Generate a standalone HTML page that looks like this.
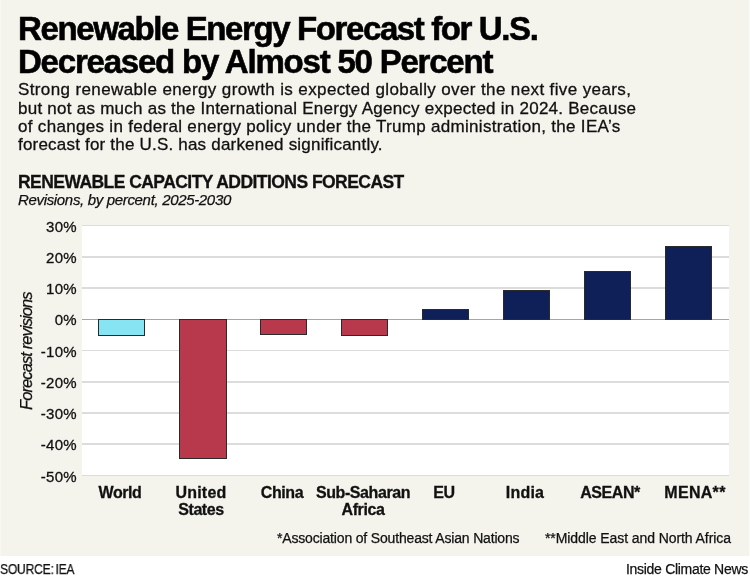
<!DOCTYPE html>
<html><head><meta charset="utf-8">
<style>
html,body{margin:0;padding:0;}
body{width:750px;height:579px;position:relative;overflow:hidden;background:#fff;-webkit-font-smoothing:antialiased;font-family:"Liberation Sans",sans-serif;color:#1a1a1a;}
.bg{position:absolute;left:0;top:0;width:749px;height:556px;background:#f4f3ec;}
.bgl{position:absolute;left:0;top:0;width:1px;height:556px;background:#f8f7f2;}
.bgr{position:absolute;left:749px;top:0;width:1px;height:556px;background:#fbfbf8;}
.t{position:absolute;white-space:nowrap;line-height:1;transform-origin:0 0;will-change:transform;}
.title{font-weight:bold;font-size:33px;color:#000;-webkit-text-stroke:0.6px #000;letter-spacing:-1.5px;}
.sub{font-size:17px;color:#111;-webkit-text-stroke:0.3px #111;}
.ctitle{font-weight:bold;font-size:17.5px;color:#111;-webkit-text-stroke:0.3px #111;letter-spacing:-0.55px;}
.csub{font-style:italic;font-size:15px;color:#111;-webkit-text-stroke:0.25px #111;letter-spacing:-0.33px;}
.plot{position:absolute;left:81.5px;top:225px;width:647.5px;height:251px;background:#fff;}
.grid{position:absolute;left:81.5px;width:647px;height:1.6px;background:#dcdcdc;}
.zero{position:absolute;left:81.5px;width:647px;height:1.9px;background:#a6a6a6;}
.yl{will-change:transform;position:absolute;width:60px;left:17.3px;text-align:right;font-size:15px;line-height:15px;color:#111;letter-spacing:0.3px;-webkit-text-stroke:0.3px #111;}
.bar{position:absolute;box-sizing:border-box;border:1.3px solid #2a2a2a;width:47.4px;}
.cy{background:#87e4f2;}
.rd{background:#b8394b;}
.nv{background:#0f1f57;}
.xl{will-change:transform;position:absolute;width:120px;text-align:center;font-weight:bold;font-size:16px;line-height:17px;color:#111;-webkit-text-stroke:0.3px #111;letter-spacing:-0.42px;}
.fn{font-size:14px;color:#111;-webkit-text-stroke:0.25px #111;}
</style></head><body>
<div class="bg"></div><div class="bgl"></div><div class="bgr"></div>

<div class="t title" style="left:18px;top:12px;letter-spacing:-1.39px;">Renewable Energy Forecast for U.S.</div>
<div class="t title" style="left:18px;top:45.3px;letter-spacing:-1.21px;">Decreased by Almost 50 Percent</div>

<div class="t sub" style="left:18px;top:81px;letter-spacing:0.38px;">Strong renewable energy growth is expected globally over the next five years,</div>
<div class="t sub" style="left:18px;top:99.5px;letter-spacing:0.25px;">but not as much as the International Energy Agency expected in 2024. Because</div>
<div class="t sub" style="left:18px;top:118px;letter-spacing:0.31px;">of changes in federal energy policy under the Trump administration, the IEA’s</div>
<div class="t sub" style="left:18px;top:136.4px;letter-spacing:0.2px;">forecast for the U.S. has darkened significantly.</div>

<div class="t ctitle" style="left:18px;top:173.5px;">RENEWABLE CAPACITY ADDITIONS FORECAST</div>
<div class="t csub" style="left:18px;top:192px;">Revisions, by percent, 2025-2030</div>

<div class="plot"></div>
<div class="grid" style="top:224.70px;"></div>
<div class="grid" style="top:255.95px;"></div>
<div class="grid" style="top:287.20px;"></div>
<div class="zero" style="top:318.5px;"></div>
<div class="grid" style="top:349.70px;"></div>
<div class="grid" style="top:380.95px;"></div>
<div class="grid" style="top:412.20px;"></div>
<div class="grid" style="top:443.45px;"></div>
<div class="grid" style="top:474.70px;"></div>

<div class="yl" style="top:218.60px;">30%</div>
<div class="yl" style="top:249.85px;">20%</div>
<div class="yl" style="top:281.10px;">10%</div>
<div class="yl" style="top:312.35px;">0%</div>
<div class="yl" style="top:343.60px;">-10%</div>
<div class="yl" style="top:374.85px;">-20%</div>
<div class="yl" style="top:406.10px;">-30%</div>
<div class="yl" style="top:437.35px;">-40%</div>
<div class="yl" style="top:468.60px;">-50%</div>

<div class="t" style="left:17.8px;top:410px;font-style:italic;font-size:16.5px;color:#111;-webkit-text-stroke:0.25px #111;letter-spacing:-0.9px;transform:rotate(-90deg);">Forecast revisions</div>

<div class="bar cy" style="left:98px;top:318.5px;height:17.4px;"></div>
<div class="bar rd" style="left:179.3px;top:318.5px;height:140.5px;"></div>
<div class="bar rd" style="left:260px;top:318.5px;height:16px;"></div>
<div class="bar rd" style="left:341px;top:318.5px;height:17.4px;"></div>
<div class="bar nv" style="left:422px;top:308.8px;height:11px;"></div>
<div class="bar nv" style="left:503px;top:290px;height:29.8px;"></div>
<div class="bar nv" style="left:584px;top:270.5px;height:49.3px;"></div>
<div class="bar nv" style="left:665px;top:246px;height:73.8px;"></div>

<div class="xl" style="left:60px;top:484px;">World</div>
<div class="xl" style="left:141px;top:484px;"><span style="letter-spacing:0.2px">United</span><br>States</div>
<div class="xl" style="left:222px;top:484px;">China</div>
<div class="xl" style="left:303px;top:484px;">Sub-Saharan<br>Africa</div>
<div class="xl" style="left:384px;top:484px;">EU</div>
<div class="xl" style="left:465px;top:484px;letter-spacing:0.2px;">India</div>
<div class="xl" style="left:550px;top:484px;">ASEAN*</div>
<div class="xl" style="left:635px;top:484px;letter-spacing:0.3px;">MENA**</div>

<div class="t fn" style="left:277px;top:530.5px;letter-spacing:-0.17px;">*Association of Southeast Asian Nations</div>
<div class="t fn" style="left:545px;top:530.5px;letter-spacing:-0.08px;">**Middle East and North Africa</div>

<div class="t fn" style="left:-0.2px;top:561.5px;letter-spacing:-0.2px;word-spacing:-1.6px;transform:scaleX(0.86);">SOURCE: IEA</div>
<div class="t fn" style="left:626px;top:561.5px;letter-spacing:-0.3px;">Inside Climate News</div>
</body></html>
